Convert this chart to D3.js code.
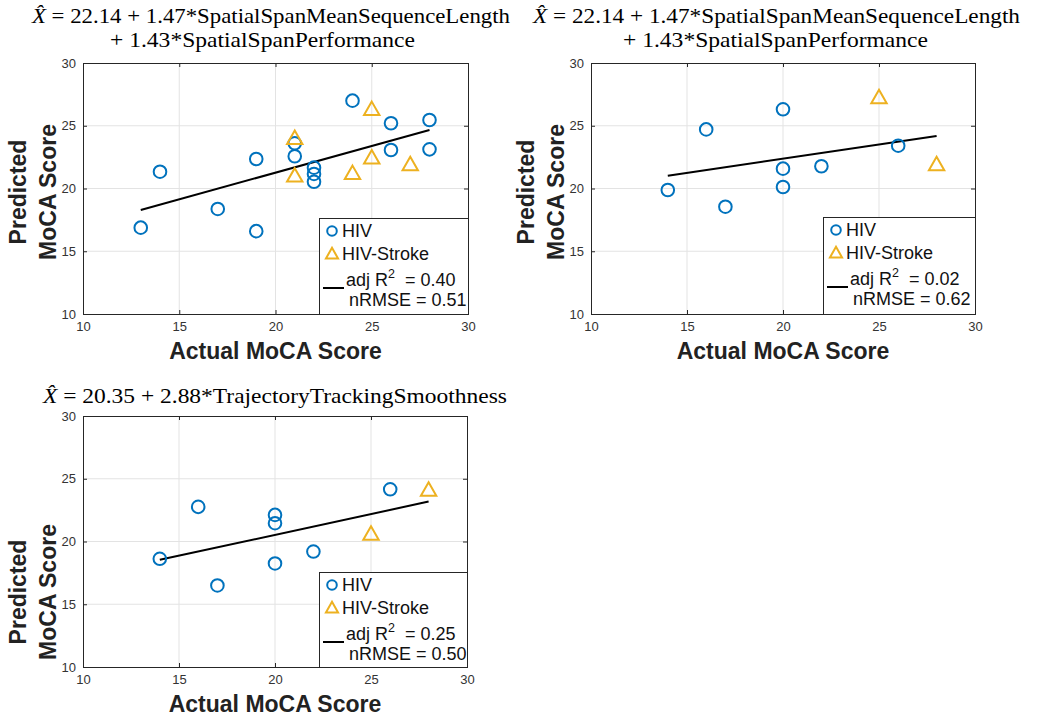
<!DOCTYPE html>
<html><head><meta charset="utf-8">
<script src="https://cdn.jsdelivr.net/npm/d3@7"></script>
<style>
body{margin:0;background:#fff;}
svg{display:block;}
</style></head>
<body>
<svg id="chart" width="1037" height="717"></svg>
<script>
// ---------- data ----------
const xTicks = [10, 15, 20, 25, 30];
const yTicks = [10, 15, 20, 25, 30];
const seriesNames = ["HIV", "HIV-Stroke"];
const xLabel = "Actual MoCA Score";
const yLabelLines = ["Predicted", "MoCA Score"];

// Panel 1
const p1Title = ["22.14 + 1.47*SpatialSpanMeanSequenceLength", "+ 1.43*SpatialSpanPerformance"];
const p1HivActual = [13, 14, 17, 19, 19, 21, 21, 22, 22, 22, 24, 26, 26, 28, 28];
const p1HivPred   = [16.88, 21.34, 18.37, 22.35, 16.6, 23.6, 22.57, 21.66, 21.16, 20.54, 27.0, 25.2, 23.07, 25.46, 23.12];
const p1StrokeActual = [21, 21, 24, 25, 25, 27];
const p1StrokePred   = [24.0, 21.0, 21.2, 26.3, 22.45, 21.9];
const p1FitActual = [13, 28];
const p1FitPred   = [18.29, 24.66];
const p1Stats = ["0.40", "0.51"];

// Panel 2
const p2Title = ["22.14 + 1.47*SpatialSpanMeanSequenceLength", "+ 1.43*SpatialSpanPerformance"];
const p2HivActual = [14, 16, 17, 20, 20, 20, 22, 26];
const p2HivPred   = [19.88, 24.71, 18.55, 26.31, 21.58, 20.12, 21.77, 23.41];
const p2StrokeActual = [25, 28];
const p2StrokePred   = [27.25, 21.9];
const p2FitActual = [14, 28];
const p2FitPred   = [21.02, 24.18];
const p2Stats = ["0.02", "0.62"];

// Panel 3
const p3Title = ["20.35 + 2.88*TrajectoryTrackingSmoothness"];
const p3HivActual = [14, 16, 17, 20, 20, 20, 22, 26];
const p3HivPred   = [18.62, 22.76, 16.5, 22.12, 21.46, 18.25, 19.2, 24.16];
const p3StrokeActual = [25, 28];
const p3StrokePred   = [20.6, 24.1];
const p3FitActual = [14, 28];
const p3FitPred   = [18.54, 23.18];
const p3Stats = ["0.25", "0.50"];

// ---------- style / layout ----------
const BLUE = "#0072BD", ORANGE = "#EDB120";
const SANS = "'Liberation Sans', Arial, Helvetica, sans-serif";
const SERIF = "'Liberation Serif', 'Times New Roman', serif";
const AXC = "#262626";

const svg = d3.select("#chart");

const panels = [
  {title: p1Title, titleSpans: [[32, 510, 23], [110, 415, 47]], box: [83, 468, 63, 314],
   hx: p1HivActual, hy: p1HivPred, sx: p1StrokeActual, sy: p1StrokePred,
   fx: p1FitActual, fy: p1FitPred, stats: p1Stats, legend: [319, 218], ylabY: 192},
  {title: p2Title, titleSpans: [[533, 1020, 23], [623, 928, 47]], box: [591, 975, 63, 314],
   hx: p2HivActual, hy: p2HivPred, sx: p2StrokeActual, sy: p2StrokePred,
   fx: p2FitActual, fy: p2FitPred, stats: p2Stats, legend: [823, 217], ylabY: 192},
  {title: p3Title, titleSpans: [[43, 507, 403]], box: [83, 467, 416, 667],
   hx: p3HivActual, hy: p3HivPred, sx: p3StrokeActual, sy: p3StrokePred,
   fx: p3FitActual, fy: p3FitPred, stats: p3Stats, legend: [319, 572], ylabY: 592}
];

function triPath(cx, cy, s) {
  const h = s * 0.9;
  return `M${cx},${cy - h * 0.62}L${cx + s * 0.55},${cy + h * 0.45}L${cx - s * 0.55},${cy + h * 0.45}Z`;
}

panels.forEach((p, i) => {
  const [x0, x1, y0, y1] = p.box;
  const x = d3.scaleLinear().domain([10, 30]).range([x0, x1]);
  const y = d3.scaleLinear().domain([10, 30]).range([y1, y0]);
  const g = svg.append("g");

  // title
  p.title.forEach((line, k) => {
    const [tx0, tx1, ty] = p.titleSpans[k];
    const t = g.append("text")
      .attr("x", tx0).attr("y", ty)
      .attr("font-family", SERIF).attr("font-size", 21).attr("fill", "#000")
      .attr("textLength", tx1 - tx0).attr("lengthAdjust", "spacingAndGlyphs");
    if (k === 0) {
      t.append("tspan").attr("font-style", "italic").text("X\u0302");
      t.append("tspan").text(" = " + line);
    } else {
      t.text(line);
    }
  });

  // grid
  g.append("g").selectAll("line").data(xTicks.slice(1, -1)).join("line")
    .attr("x1", d => x(d)).attr("x2", d => x(d)).attr("y1", y0).attr("y2", y1)
    .attr("stroke", "#e3e3e3").attr("stroke-width", 1);
  g.append("g").selectAll("line").data(yTicks.slice(1, -1)).join("line")
    .attr("y1", d => y(d)).attr("y2", d => y(d)).attr("x1", x0).attr("x2", x1)
    .attr("stroke", "#e3e3e3").attr("stroke-width", 1);

  // axes
  const tickStyle = sel => {
    sel.select(".domain").remove();
    sel.selectAll("line").attr("stroke", AXC);
    sel.selectAll("text").attr("font-family", SANS).attr("font-size", 13).attr("fill", "#333");
  };
  g.append("g").attr("transform", `translate(0,${y1})`)
    .call(d3.axisBottom(x).tickValues(xTicks).tickSize(-4).tickPadding(8).tickFormat(d3.format("d")))
    .call(tickStyle);
  g.append("g").attr("transform", `translate(0,${y0})`)
    .call(d3.axisTop(x).tickValues(xTicks).tickSize(-4).tickFormat(""))
    .call(tickStyle);
  g.append("g").attr("transform", `translate(${x0},0)`)
    .call(d3.axisLeft(y).tickValues(yTicks).tickSize(-4).tickPadding(7).tickFormat(d3.format("d")))
    .call(tickStyle);
  g.append("g").attr("transform", `translate(${x1},0)`)
    .call(d3.axisRight(y).tickValues(yTicks).tickSize(-4).tickFormat(""))
    .call(tickStyle);
  g.append("rect").attr("x", x0 + 0.5).attr("y", y0 + 0.5)
    .attr("width", x1 - x0).attr("height", y1 - y0)
    .attr("fill", "none").attr("stroke", AXC).attr("stroke-width", 1);

  // axis labels
  g.append("text").attr("x", (x0 + x1) / 2).attr("y", y1 + 45)
    .attr("text-anchor", "middle").attr("font-family", SANS).attr("font-weight", "bold")
    .attr("font-size", 23).attr("fill", "#222").text(xLabel);
  yLabelLines.forEach((l, k) => {
    g.append("text")
      .attr("transform", `translate(${x0 - 57 + k * 30},${p.ylabY}) rotate(-90)`)
      .attr("text-anchor", "middle").attr("font-family", SANS).attr("font-weight", "bold")
      .attr("font-size", 23).attr("fill", "#222").text(l);
  });

  // fit line
  g.append("path").datum(p.fx.map((d, j) => [d, p.fy[j]]))
    .attr("d", d3.line().x(d => x(d[0])).y(d => y(d[1])))
    .attr("stroke", "#000").attr("stroke-width", 2).attr("fill", "none");

  // HIV circles
  g.append("g").selectAll("circle").data(p.hx.map((d, j) => [d, p.hy[j]])).join("circle")
    .attr("cx", d => x(d[0])).attr("cy", d => y(d[1])).attr("r", 6.3)
    .attr("fill", "none").attr("stroke", BLUE).attr("stroke-width", 2);
  // stroke triangles
  g.append("g").selectAll("path").data(p.sx.map((d, j) => [d, p.sy[j]])).join("path")
    .attr("d", d => triPath(x(d[0]), y(d[1]), 14))
    .attr("fill", "none").attr("stroke", ORANGE).attr("stroke-width", 2).attr("stroke-linejoin", "miter");

  // legend
  const [lx, ly] = p.legend;
  const lg = g.append("g");
  lg.append("rect").attr("x", lx + 0.5).attr("y", ly + 0.5)
    .attr("width", x1 - lx).attr("height", y1 - ly)
    .attr("fill", "#fff").attr("stroke", AXC).attr("stroke-width", 1);
  lg.append("circle").attr("cx", lx + 13).attr("cy", ly + 13).attr("r", 4.8)
    .attr("fill", "none").attr("stroke", BLUE).attr("stroke-width", 2);
  lg.append("path").attr("d", triPath(lx + 13, ly + 36, 11))
    .attr("fill", "none").attr("stroke", ORANGE).attr("stroke-width", 2);
  const lt = (tx, ty, s) => lg.append("text").attr("x", tx).attr("y", ty)
    .attr("font-family", SANS).attr("font-size", 18).attr("fill", "#111").text(s);
  lt(lx + 23, ly + 19, seriesNames[0]);
  lt(lx + 23, ly + 42, seriesNames[1]);
  lg.append("line").attr("x1", lx + 4).attr("x2", lx + 25).attr("y1", ly + 70).attr("y2", ly + 70)
    .attr("stroke", "#000").attr("stroke-width", 2);
  const t3 = lg.append("text").attr("x", lx + 27).attr("y", ly + 68)
    .attr("font-family", SANS).attr("font-size", 18).attr("fill", "#111");
  t3.append("tspan").text("adj R");
  t3.append("tspan").attr("dy", -8).attr("font-size", 12.5).text("2");
  t3.append("tspan").attr("dy", 8).text("  = " + p.stats[0]);
  t3.attr("xml:space", "preserve");
  lt(lx + 30, ly + 88, "nRMSE = " + p.stats[1]);
});
</script>
</body></html>
